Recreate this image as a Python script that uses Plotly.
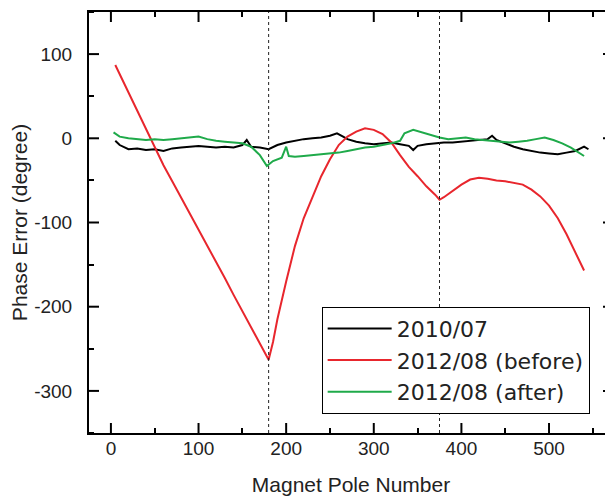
import plotly.graph_objects as go

# 2010/07 measurement
pole_2010 = [5, 10, 20, 30, 40, 50, 60, 70, 80, 90, 100, 110, 120, 130, 140, 150, 155, 160,
             170, 180, 190, 200, 210, 220, 230, 240, 250, 258, 265, 270, 280, 290, 300, 310,
             320, 330, 340, 345, 350, 360, 370, 380, 390, 400, 410, 420, 430, 435, 440, 450,
             460, 470, 480, 490, 500, 510, 520, 530, 540, 545]
err_2010 = [-3, -8, -13, -12, -14, -13, -15, -12, -11, -10, -9, -10, -11, -10, -11, -8, -2, -10,
            -11, -13, -8, -5, -3, -1, 0, 1, 3, 6, 2, -1, -4, -6, -7, -6,
            -5, -7, -9, -14, -9, -7, -6, -5, -5, -4, -3, -2, -1, 3, -2, -6,
            -10, -13, -15, -17, -18, -19, -17, -15, -10, -13]

# 2012/08 before correction
pole_before = [5, 10, 20, 30, 40, 50, 60, 70, 80, 90, 100, 110, 120, 130, 140, 150, 160, 170,
               180, 185, 190, 200, 205, 210, 220, 230, 240, 250, 260, 270, 280, 290, 300, 310,
               320, 330, 340, 350, 360, 370, 375, 380, 390, 400, 410, 420, 430, 440, 450, 460,
               470, 480, 490, 500, 510, 520, 530, 540]
err_before = [87, 76, 54, 32, 10, -12, -32, -51, -70, -90, -109, -128, -147, -166, -186, -205, -224, -243,
              -263, -242, -215, -170, -150, -128, -95, -70, -45, -25, -8, 2, 8, 12, 10, 5,
              -5, -20, -34, -45, -57, -67, -73, -70, -62, -55, -49, -47, -48, -50, -51, -53,
              -55, -61, -69, -80, -95, -114, -135, -157]

# 2012/08 after correction
pole_after = [3, 10, 20, 30, 40, 50, 60, 70, 80, 90, 100, 110, 120, 130, 140, 150, 160, 170,
              178, 185, 195, 200, 203, 210, 220, 230, 240, 250, 260, 270, 280, 290, 300, 310,
              320, 330, 335, 345, 355, 365, 375, 385, 395, 405, 415, 425, 435, 445, 455, 465,
              475, 485, 495, 505, 515, 525, 535, 540]
err_after = [7, 2, 0, -1, -2, -1, -2, -1, 0, 1, 2, -1, -3, -4, -5, -6, -10, -20,
             -33, -27, -23, -10, -21, -22, -21, -20, -19, -18, -17, -15, -13, -11, -10, -8,
             -6, -3, 6, 10, 7, 4, 1, -1, 0, 1, -1, -2, -3, -4, -5, -4,
             -3, -1, 1, -2, -6, -11, -17, -21]

marker_poles = [180, 375]

x_range = [-25, 573]
y_range = [-350, 150]
x_ticks = [0, 100, 200, 300, 400, 500]
x_minor = [50, 150, 250, 350, 450, 550]
y_ticks = [-300, -200, -100, 0, 100]
y_labels = ["-300", "-200", "-100", "0", "100"]
y_minor = [-350, -250, -150, -50, 50, 150]

fig = go.Figure()
fig.add_trace(go.Scatter(x=pole_2010, y=err_2010, mode="lines", name="2010/07",
                         line=dict(color="black", width=2), legendgroup="a"))
fig.add_trace(go.Scatter(x=pole_before, y=err_before, mode="lines", name="2012/08 (before)",
                         line=dict(color="#e8262d", width=2), legendgroup="b"))
fig.add_trace(go.Scatter(x=pole_after, y=err_after, mode="lines", name="2012/08 (after)",
                         line=dict(color="#1faa4a", width=2), legendgroup="c"))

for p in marker_poles:
    fig.add_vline(x=p, line=dict(color="#222222", width=1, dash="3px,3px"))

# long inside ticks on all four sides (pixel-sized, placed through the axes)
tick_line = dict(color="black", width=2)
for t in x_ticks:
    fig.add_shape(type="line", xref="x", yref="paper", ysizemode="pixel", yanchor=0,
                  x0=t, x1=t, y0=0, y1=10, line=tick_line)
    fig.add_shape(type="line", xref="x", yref="paper", ysizemode="pixel", yanchor=1,
                  x0=t, x1=t, y0=0, y1=-10, line=tick_line)
for t in y_ticks:
    fig.add_shape(type="line", xref="paper", yref="y", xsizemode="pixel", xanchor=0,
                  x0=0, x1=10, y0=t, y1=t, line=tick_line)
    fig.add_shape(type="line", xref="paper", yref="y", xsizemode="pixel", xanchor=1,
                  x0=-10, x1=0, y0=t, y1=t, line=tick_line)

tick_font = dict(family="Arial, Liberation Sans, sans-serif", size=19, color="#222222")
title_font = dict(family="Arial, Liberation Sans, sans-serif", size=21, color="#222222")

frame = dict(showline=True, linecolor="black", linewidth=2, mirror="allticks",
             showgrid=False, zeroline=False, automargin=False)

fig.update_layout(
    xaxis=dict(range=x_range, tickmode="array", tickvals=x_ticks, ticks="",
               minor=dict(tickmode="array", tickvals=x_minor, ticks="inside",
                          ticklen=5, tickwidth=2, tickcolor="black"),
               tickfont=tick_font, ticklabelstandoff=-3,
               title=dict(text="Magnet Pole Number", font=title_font, standoff=20),
               **frame),
    yaxis=dict(range=y_range, tickmode="array", tickvals=y_ticks, ticktext=y_labels, ticks="",
               minor=dict(tickmode="array", tickvals=y_minor, ticks="inside",
                          ticklen=5, tickwidth=2, tickcolor="black"),
               tickfont=tick_font, ticklabelstandoff=11,
               title=dict(text="Phase Error (degree)", font=title_font, standoff=4),
               **frame),
)

fig.update_layout(
    template="none",
    width=605, height=491,
    margin=dict(l=81, r=0, t=4, b=66),
    plot_bgcolor="white", paper_bgcolor="white",
    legend=dict(x=0.444, y=0.30, xanchor="left", yanchor="top",
                bordercolor="black", borderwidth=1, bgcolor="white",
                font=dict(family="DejaVu Sans", size=22, color="#222222"),
                itemwidth=64, tracegroupgap=0),
)

fig.write_html("out.html")
